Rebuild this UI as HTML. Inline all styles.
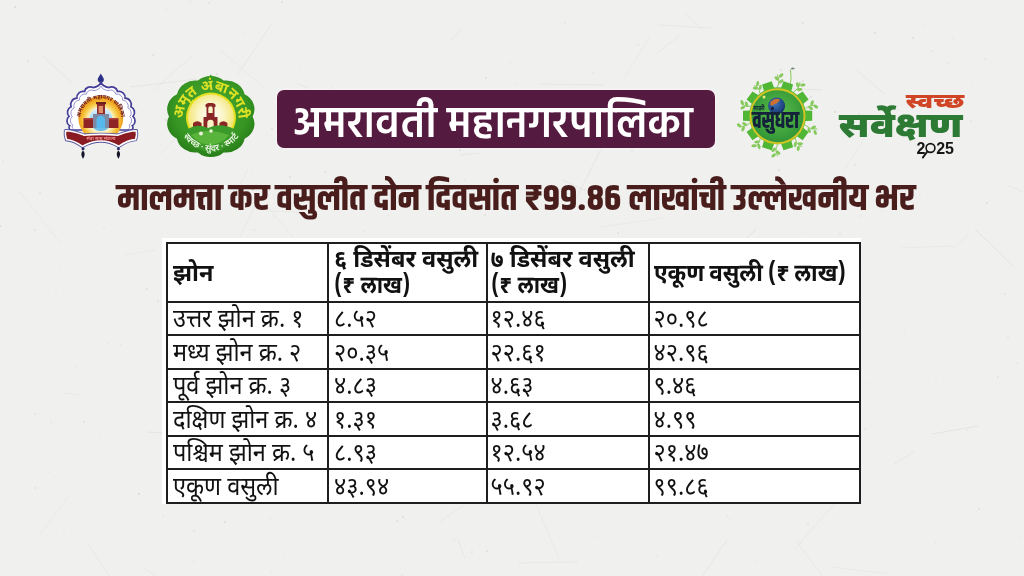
<!DOCTYPE html>
<html lang="mr">
<head>
<meta charset="utf-8">
<title>अमरावती महानगरपालिका - मालमत्ता कर वसुली</title>
<style>
html,body{margin:0;padding:0}
body{width:1024px;height:576px;position:relative;overflow:hidden;background:#f0f0ee;font-family:"Noto Sans Devanagari","Lohit Devanagari","FreeSans","Liberation Sans",sans-serif}
.abs{position:absolute}
#title{left:277px;top:90px;width:438px;height:58px;background:#551a3f;border-radius:7px;box-shadow:0 0 0 1.5px #f6f1f3}
#title span{position:absolute;left:0;top:7px;width:100%;text-align:center;color:#fff;font-family:"Hind","Mukta","Noto Sans Devanagari","Lohit Devanagari","Liberation Sans",sans-serif;font-weight:600;font-size:43px;line-height:58px;white-space:nowrap;transform:translateX(-3px) scaleX(0.978)}
#headline{left:4px;top:175px;width:1024px;text-align:center;color:#481d1b;font-family:"Khand","Teko","Noto Sans Devanagari","Lohit Devanagari","Liberation Sans",sans-serif;font-weight:700;font-size:37.2px;line-height:50px;white-space:nowrap}
#tpad{left:162px;top:238px;width:699px;height:266px;background:#fff}
#tbl{left:166px;top:242px;width:695px;height:262px;background:#1e1e1e;display:grid;grid-template-columns:159px 157px 160px 209px;grid-template-rows:57px 31px 32px 31px 32px 31px 32px;gap:2px;padding:2px;box-sizing:border-box}
#tbl div{background:#fff;color:#111;font-size:23.5px;line-height:25px;padding-left:5px;display:flex;align-items:center;white-space:nowrap}
#tbl div span{display:inline-block;transform:translateY(2px) scaleY(1.1)}
#tbl div.h{font-weight:700;font-size:23.5px}
#tbl div:nth-child(4n+3){padding-left:2.5px}
#tbl div:nth-child(4n+4){padding-left:3.5px}
#tbl div.h span{transform:translateY(1.5px) scaleY(1.05)}
#tbl div i{font-style:normal;display:inline-block;transform:scaleX(0.92);transform-origin:0 50%}
#tbl div.h1 span{transform:translateY(2.5px) scaleY(1.05)}
</style>
</head>
<body>
<svg class="abs" style="left:0;top:0" width="1024" height="576" aria-hidden="true">
<g stroke="#c9c9c6" stroke-width="0.6" fill="none"><path d="M332,87 L313,130" stroke-opacity="0.52"/><path d="M220,50 L266,89" stroke-opacity="0.29"/><path d="M229,361 L235,378" stroke-opacity="0.51"/><path d="M297,83 L315,92" stroke-opacity="0.42"/><path d="M192,56 L153,91" stroke-opacity="0.38"/><path d="M322,337 L379,343" stroke-opacity="0.27"/><path d="M307,285 L325,298" stroke-opacity="0.38"/><path d="M775,88 L822,90" stroke-opacity="0.51"/><path d="M321,400 L365,452" stroke-opacity="0.39"/><path d="M680,35 L656,54" stroke-opacity="0.37"/><path d="M685,13 L704,31" stroke-opacity="0.34"/><path d="M756,229 L724,261" stroke-opacity="0.52"/><path d="M839,498 L795,549" stroke-opacity="0.30"/><path d="M180,134 L159,155" stroke-opacity="0.29"/><path d="M547,351 L598,358" stroke-opacity="0.47"/><path d="M468,502 L438,523" stroke-opacity="0.28"/><path d="M650,36 L625,77" stroke-opacity="0.28"/><path d="M580,309 L599,354" stroke-opacity="0.29"/><path d="M258,200 L240,237" stroke-opacity="0.34"/><path d="M148,432 L164,433" stroke-opacity="0.54"/><path d="M541,84 L603,85" stroke-opacity="0.46"/><path d="M267,211 L301,212" stroke-opacity="0.32"/><path d="M831,567 L890,574" stroke-opacity="0.31"/><path d="M505,421 L523,471" stroke-opacity="0.54"/><path d="M458,540 L465,559" stroke-opacity="0.39"/><path d="M346,278 L379,272" stroke-opacity="0.44"/><path d="M855,69 L885,94" stroke-opacity="0.44"/><path d="M89,545 L119,591" stroke-opacity="0.30"/><path d="M130,87 L198,79" stroke-opacity="0.45"/><path d="M359,316 L379,319" stroke-opacity="0.47"/><path d="M143,568 L170,584" stroke-opacity="0.32"/><path d="M601,149 L572,207" stroke-opacity="0.45"/><path d="M835,298 L856,336" stroke-opacity="0.26"/><path d="M451,105 L408,130" stroke-opacity="0.29"/><path d="M63,393 L81,395" stroke-opacity="0.31"/><path d="M43,56 L72,83" stroke-opacity="0.43"/><path d="M518,295 L489,327" stroke-opacity="0.32"/><path d="M536,505 L560,561" stroke-opacity="0.29"/><path d="M125,255 L156,250" stroke-opacity="0.29"/><path d="M796,541 L837,595" stroke-opacity="0.32"/><path d="M975,229 L1014,267" stroke-opacity="0.55"/><path d="M414,243 L395,284" stroke-opacity="0.38"/><path d="M19,191 L61,244" stroke-opacity="0.28"/><path d="M272,23 L238,74" stroke-opacity="0.45"/><path d="M969,234 L954,248" stroke-opacity="0.27"/><path d="M705,245 L687,253" stroke-opacity="0.51"/><path d="M68,497 L39,536" stroke-opacity="0.26"/><path d="M727,540 L699,582" stroke-opacity="0.41"/><path d="M211,257 L201,271" stroke-opacity="0.26"/><path d="M518,563 L578,562" stroke-opacity="0.38"/><path d="M507,481 L533,502" stroke-opacity="0.50"/><path d="M724,366 L736,377" stroke-opacity="0.44"/><path d="M901,248 L953,246" stroke-opacity="0.33"/><path d="M248,169 L232,200" stroke-opacity="0.35"/><path d="M1009,186 L1023,192" stroke-opacity="0.36"/><path d="M486,290 L443,332" stroke-opacity="0.29"/><path d="M601,227 L662,218" stroke-opacity="0.30"/><path d="M914,452 L894,464" stroke-opacity="0.47"/><path d="M659,25 L712,28" stroke-opacity="0.40"/><path d="M932,434 L978,426" stroke-opacity="0.52"/><path d="M699,399 L674,462" stroke-opacity="0.36"/><path d="M462,29 L451,40" stroke-opacity="0.49"/><path d="M766,290 L807,284" stroke-opacity="0.49"/><path d="M866,135 L844,171" stroke-opacity="0.36"/><path d="M491,394 L516,435" stroke-opacity="0.35"/><path d="M667,399 L654,426" stroke-opacity="0.45"/><path d="M709,389 L668,429" stroke-opacity="0.55"/><path d="M562,180 L617,204" stroke-opacity="0.54"/><path d="M460,155 L480,153" stroke-opacity="0.47"/><path d="M268,207 L302,248" stroke-opacity="0.32"/></g>
<g fill="#b5b5b2"><circle cx="919" cy="280" r="0.3" fill-opacity="0.20"/><circle cx="503" cy="260" r="0.5" fill-opacity="0.26"/><circle cx="352" cy="182" r="0.8" fill-opacity="0.20"/><circle cx="769" cy="483" r="0.4" fill-opacity="0.57"/><circle cx="730" cy="519" r="0.5" fill-opacity="0.35"/><circle cx="402" cy="575" r="0.7" fill-opacity="0.34"/><circle cx="438" cy="158" r="0.3" fill-opacity="0.24"/><circle cx="855" cy="165" r="0.9" fill-opacity="0.30"/><circle cx="272" cy="294" r="0.4" fill-opacity="0.35"/><circle cx="979" cy="509" r="0.8" fill-opacity="0.45"/><circle cx="935" cy="542" r="0.6" fill-opacity="0.49"/><circle cx="51" cy="422" r="0.6" fill-opacity="0.50"/><circle cx="660" cy="165" r="0.3" fill-opacity="0.57"/><circle cx="130" cy="272" r="0.5" fill-opacity="0.32"/><circle cx="757" cy="562" r="0.5" fill-opacity="0.46"/><circle cx="308" cy="321" r="0.5" fill-opacity="0.27"/><circle cx="166" cy="120" r="0.8" fill-opacity="0.40"/><circle cx="225" cy="522" r="0.9" fill-opacity="0.38"/><circle cx="143" cy="111" r="0.4" fill-opacity="0.34"/><circle cx="93" cy="138" r="0.5" fill-opacity="0.43"/><circle cx="909" cy="432" r="0.5" fill-opacity="0.37"/><circle cx="537" cy="217" r="0.5" fill-opacity="0.22"/><circle cx="284" cy="557" r="0.4" fill-opacity="0.40"/><circle cx="645" cy="497" r="0.4" fill-opacity="0.31"/><circle cx="254" cy="230" r="0.6" fill-opacity="0.58"/><circle cx="869" cy="503" r="0.3" fill-opacity="0.21"/><circle cx="727" cy="516" r="0.6" fill-opacity="0.43"/><circle cx="0" cy="226" r="0.9" fill-opacity="0.53"/><circle cx="876" cy="560" r="0.4" fill-opacity="0.24"/><circle cx="158" cy="301" r="0.7" fill-opacity="0.58"/><circle cx="739" cy="373" r="0.8" fill-opacity="0.38"/><circle cx="565" cy="23" r="0.8" fill-opacity="0.29"/><circle cx="942" cy="372" r="0.5" fill-opacity="0.25"/><circle cx="258" cy="367" r="0.7" fill-opacity="0.24"/><circle cx="72" cy="302" r="0.6" fill-opacity="0.36"/><circle cx="229" cy="346" r="0.3" fill-opacity="0.32"/><circle cx="472" cy="552" r="0.7" fill-opacity="0.55"/><circle cx="487" cy="135" r="0.4" fill-opacity="0.58"/><circle cx="722" cy="177" r="0.3" fill-opacity="0.40"/><circle cx="691" cy="242" r="0.5" fill-opacity="0.47"/><circle cx="947" cy="131" r="0.3" fill-opacity="0.34"/><circle cx="431" cy="393" r="0.4" fill-opacity="0.52"/><circle cx="757" cy="291" r="0.4" fill-opacity="0.59"/><circle cx="319" cy="472" r="0.4" fill-opacity="0.29"/><circle cx="779" cy="170" r="0.9" fill-opacity="0.40"/><circle cx="192" cy="129" r="0.6" fill-opacity="0.47"/><circle cx="972" cy="84" r="0.5" fill-opacity="0.29"/><circle cx="997" cy="82" r="0.3" fill-opacity="0.22"/><circle cx="403" cy="517" r="0.8" fill-opacity="0.49"/><circle cx="1021" cy="537" r="0.5" fill-opacity="0.27"/><circle cx="958" cy="430" r="0.3" fill-opacity="0.47"/><circle cx="388" cy="215" r="0.5" fill-opacity="0.27"/><circle cx="3" cy="161" r="0.5" fill-opacity="0.58"/><circle cx="127" cy="555" r="0.4" fill-opacity="0.34"/><circle cx="841" cy="473" r="0.6" fill-opacity="0.22"/><circle cx="485" cy="215" r="0.9" fill-opacity="0.28"/><circle cx="373" cy="517" r="0.3" fill-opacity="0.36"/><circle cx="831" cy="442" r="0.3" fill-opacity="0.21"/><circle cx="64" cy="530" r="0.5" fill-opacity="0.50"/><circle cx="920" cy="195" r="0.5" fill-opacity="0.58"/><circle cx="632" cy="151" r="0.7" fill-opacity="0.33"/><circle cx="282" cy="2" r="0.8" fill-opacity="0.57"/><circle cx="649" cy="543" r="0.3" fill-opacity="0.29"/><circle cx="487" cy="551" r="0.9" fill-opacity="0.35"/><circle cx="257" cy="248" r="0.6" fill-opacity="0.57"/><circle cx="187" cy="462" r="0.7" fill-opacity="0.53"/><circle cx="791" cy="350" r="0.5" fill-opacity="0.33"/><circle cx="371" cy="451" r="0.3" fill-opacity="0.28"/><circle cx="771" cy="142" r="0.3" fill-opacity="0.21"/><circle cx="566" cy="188" r="0.9" fill-opacity="0.55"/><circle cx="1012" cy="153" r="0.4" fill-opacity="0.24"/><circle cx="510" cy="409" r="0.6" fill-opacity="0.29"/><circle cx="427" cy="357" r="0.7" fill-opacity="0.50"/><circle cx="867" cy="383" r="0.4" fill-opacity="0.54"/><circle cx="301" cy="327" r="0.5" fill-opacity="0.50"/><circle cx="204" cy="143" r="0.4" fill-opacity="0.26"/><circle cx="905" cy="333" r="0.5" fill-opacity="0.36"/><circle cx="1016" cy="292" r="0.4" fill-opacity="0.52"/><circle cx="669" cy="571" r="0.4" fill-opacity="0.39"/><circle cx="839" cy="484" r="0.8" fill-opacity="0.22"/><circle cx="301" cy="69" r="0.4" fill-opacity="0.59"/><circle cx="597" cy="536" r="0.5" fill-opacity="0.55"/><circle cx="460" cy="150" r="0.8" fill-opacity="0.58"/><circle cx="108" cy="343" r="0.7" fill-opacity="0.29"/><circle cx="378" cy="81" r="0.4" fill-opacity="0.30"/><circle cx="614" cy="375" r="0.4" fill-opacity="0.20"/><circle cx="335" cy="391" r="0.4" fill-opacity="0.32"/><circle cx="208" cy="458" r="0.6" fill-opacity="0.23"/><circle cx="104" cy="228" r="0.6" fill-opacity="0.46"/><circle cx="93" cy="94" r="0.7" fill-opacity="0.36"/><circle cx="290" cy="177" r="0.9" fill-opacity="0.32"/><circle cx="580" cy="206" r="0.5" fill-opacity="0.55"/><circle cx="1021" cy="210" r="0.4" fill-opacity="0.49"/><circle cx="209" cy="3" r="0.8" fill-opacity="0.37"/><circle cx="840" cy="234" r="0.8" fill-opacity="0.38"/><circle cx="166" cy="9" r="0.6" fill-opacity="0.46"/><circle cx="932" cy="51" r="0.7" fill-opacity="0.35"/><circle cx="517" cy="84" r="0.5" fill-opacity="0.41"/><circle cx="948" cy="63" r="0.6" fill-opacity="0.52"/><circle cx="990" cy="114" r="0.4" fill-opacity="0.58"/><circle cx="999" cy="278" r="0.3" fill-opacity="0.57"/><circle cx="397" cy="521" r="0.7" fill-opacity="0.53"/><circle cx="164" cy="453" r="0.4" fill-opacity="0.36"/><circle cx="867" cy="478" r="0.4" fill-opacity="0.29"/><circle cx="409" cy="298" r="0.5" fill-opacity="0.25"/><circle cx="253" cy="418" r="0.8" fill-opacity="0.22"/><circle cx="576" cy="436" r="0.3" fill-opacity="0.54"/><circle cx="121" cy="345" r="0.6" fill-opacity="0.45"/><circle cx="314" cy="242" r="0.6" fill-opacity="0.37"/><circle cx="675" cy="257" r="0.6" fill-opacity="0.21"/><circle cx="634" cy="282" r="0.4" fill-opacity="0.51"/><circle cx="799" cy="264" r="0.4" fill-opacity="0.39"/><circle cx="110" cy="74" r="0.6" fill-opacity="0.24"/><circle cx="453" cy="294" r="0.3" fill-opacity="0.45"/><circle cx="84" cy="422" r="0.8" fill-opacity="0.40"/><circle cx="56" cy="290" r="0.5" fill-opacity="0.58"/><circle cx="139" cy="494" r="0.9" fill-opacity="0.49"/><circle cx="835" cy="112" r="0.9" fill-opacity="0.40"/><circle cx="980" cy="528" r="0.4" fill-opacity="0.52"/><circle cx="953" cy="38" r="0.5" fill-opacity="0.50"/><circle cx="163" cy="516" r="0.5" fill-opacity="0.53"/><circle cx="147" cy="289" r="0.9" fill-opacity="0.28"/><circle cx="269" cy="291" r="0.5" fill-opacity="0.21"/><circle cx="186" cy="93" r="0.9" fill-opacity="0.47"/><circle cx="917" cy="97" r="0.8" fill-opacity="0.25"/><circle cx="543" cy="367" r="0.5" fill-opacity="0.55"/><circle cx="569" cy="334" r="0.8" fill-opacity="0.24"/><circle cx="1017" cy="363" r="0.5" fill-opacity="0.52"/><circle cx="271" cy="571" r="0.6" fill-opacity="0.34"/><circle cx="783" cy="255" r="0.4" fill-opacity="0.50"/><circle cx="49" cy="472" r="0.5" fill-opacity="0.46"/><circle cx="1008" cy="337" r="0.7" fill-opacity="0.33"/><circle cx="2" cy="19" r="0.4" fill-opacity="0.45"/><circle cx="443" cy="295" r="0.8" fill-opacity="0.25"/><circle cx="233" cy="376" r="0.3" fill-opacity="0.20"/><circle cx="363" cy="61" r="0.5" fill-opacity="0.29"/><circle cx="598" cy="339" r="0.4" fill-opacity="0.45"/><circle cx="486" cy="78" r="0.9" fill-opacity="0.30"/><circle cx="153" cy="55" r="0.7" fill-opacity="0.55"/><circle cx="801" cy="232" r="0.5" fill-opacity="0.20"/><circle cx="660" cy="324" r="0.5" fill-opacity="0.46"/><circle cx="454" cy="540" r="0.7" fill-opacity="0.30"/><circle cx="925" cy="25" r="0.6" fill-opacity="0.36"/><circle cx="243" cy="34" r="0.8" fill-opacity="0.20"/><circle cx="564" cy="542" r="0.4" fill-opacity="0.28"/><circle cx="623" cy="292" r="0.7" fill-opacity="0.53"/><circle cx="179" cy="178" r="0.5" fill-opacity="0.22"/><circle cx="911" cy="451" r="0.7" fill-opacity="0.20"/><circle cx="865" cy="429" r="0.6" fill-opacity="0.50"/><circle cx="463" cy="130" r="0.4" fill-opacity="0.29"/><circle cx="40" cy="193" r="0.7" fill-opacity="0.48"/><circle cx="866" cy="410" r="0.5" fill-opacity="0.42"/><circle cx="447" cy="454" r="0.6" fill-opacity="0.31"/><circle cx="657" cy="556" r="0.4" fill-opacity="0.55"/><circle cx="16" cy="150" r="0.4" fill-opacity="0.50"/><circle cx="967" cy="430" r="0.5" fill-opacity="0.55"/><circle cx="336" cy="138" r="0.8" fill-opacity="0.45"/><circle cx="709" cy="383" r="0.9" fill-opacity="0.39"/><circle cx="860" cy="402" r="0.8" fill-opacity="0.37"/><circle cx="742" cy="329" r="0.5" fill-opacity="0.28"/><circle cx="638" cy="45" r="0.8" fill-opacity="0.26"/><circle cx="28" cy="61" r="0.9" fill-opacity="0.34"/><circle cx="145" cy="17" r="0.3" fill-opacity="0.48"/><circle cx="649" cy="401" r="0.7" fill-opacity="0.23"/><circle cx="605" cy="209" r="0.8" fill-opacity="0.53"/><circle cx="913" cy="38" r="0.8" fill-opacity="0.57"/><circle cx="967" cy="62" r="0.4" fill-opacity="0.24"/><circle cx="35" cy="488" r="0.8" fill-opacity="0.45"/><circle cx="845" cy="364" r="0.5" fill-opacity="0.24"/><circle cx="100" cy="436" r="0.4" fill-opacity="0.33"/><circle cx="434" cy="12" r="0.5" fill-opacity="0.31"/><circle cx="733" cy="212" r="0.5" fill-opacity="0.59"/><circle cx="516" cy="490" r="0.7" fill-opacity="0.21"/><circle cx="423" cy="251" r="0.8" fill-opacity="0.34"/><circle cx="722" cy="310" r="0.4" fill-opacity="0.54"/><circle cx="93" cy="472" r="0.4" fill-opacity="0.20"/><circle cx="207" cy="439" r="0.9" fill-opacity="0.20"/><circle cx="503" cy="283" r="0.8" fill-opacity="0.27"/><circle cx="506" cy="200" r="0.8" fill-opacity="0.30"/><circle cx="967" cy="163" r="0.4" fill-opacity="0.48"/><circle cx="510" cy="63" r="0.7" fill-opacity="0.23"/><circle cx="807" cy="402" r="0.8" fill-opacity="0.45"/><circle cx="364" cy="231" r="0.5" fill-opacity="0.56"/><circle cx="88" cy="512" r="0.3" fill-opacity="0.28"/><circle cx="270" cy="519" r="0.6" fill-opacity="0.35"/><circle cx="905" cy="135" r="0.6" fill-opacity="0.41"/><circle cx="773" cy="434" r="0.7" fill-opacity="0.34"/><circle cx="335" cy="89" r="0.8" fill-opacity="0.46"/><circle cx="760" cy="98" r="0.6" fill-opacity="0.51"/><circle cx="593" cy="73" r="0.6" fill-opacity="0.55"/><circle cx="244" cy="110" r="0.5" fill-opacity="0.48"/><circle cx="864" cy="89" r="0.4" fill-opacity="0.30"/><circle cx="334" cy="301" r="0.4" fill-opacity="0.33"/><circle cx="194" cy="562" r="0.7" fill-opacity="0.24"/><circle cx="985" cy="59" r="0.5" fill-opacity="0.59"/><circle cx="814" cy="422" r="0.6" fill-opacity="0.28"/><circle cx="653" cy="62" r="0.4" fill-opacity="0.36"/><circle cx="35" cy="230" r="0.8" fill-opacity="0.48"/><circle cx="512" cy="364" r="0.6" fill-opacity="0.26"/><circle cx="618" cy="233" r="0.7" fill-opacity="0.56"/><circle cx="440" cy="331" r="0.7" fill-opacity="0.37"/><circle cx="234" cy="416" r="0.8" fill-opacity="0.51"/><circle cx="717" cy="491" r="0.7" fill-opacity="0.46"/><circle cx="465" cy="180" r="0.7" fill-opacity="0.24"/><circle cx="430" cy="451" r="0.7" fill-opacity="0.45"/><circle cx="256" cy="244" r="0.6" fill-opacity="0.45"/><circle cx="419" cy="389" r="0.9" fill-opacity="0.27"/><circle cx="670" cy="448" r="0.5" fill-opacity="0.40"/><circle cx="998" cy="22" r="0.6" fill-opacity="0.26"/><circle cx="801" cy="542" r="0.6" fill-opacity="0.24"/><circle cx="588" cy="312" r="0.7" fill-opacity="0.40"/><circle cx="655" cy="477" r="0.6" fill-opacity="0.36"/><circle cx="971" cy="121" r="0.7" fill-opacity="0.36"/><circle cx="781" cy="70" r="0.9" fill-opacity="0.34"/><circle cx="58" cy="158" r="0.5" fill-opacity="0.21"/><circle cx="429" cy="242" r="0.7" fill-opacity="0.34"/><circle cx="272" cy="129" r="0.7" fill-opacity="0.58"/><circle cx="540" cy="126" r="0.8" fill-opacity="0.36"/><circle cx="217" cy="74" r="0.8" fill-opacity="0.52"/><circle cx="650" cy="270" r="0.6" fill-opacity="0.29"/><circle cx="987" cy="203" r="0.7" fill-opacity="0.53"/><circle cx="836" cy="270" r="0.5" fill-opacity="0.42"/><circle cx="128" cy="480" r="0.5" fill-opacity="0.54"/><circle cx="274" cy="217" r="0.5" fill-opacity="0.37"/><circle cx="190" cy="2" r="0.7" fill-opacity="0.31"/><circle cx="251" cy="174" r="0.6" fill-opacity="0.37"/><circle cx="653" cy="380" r="0.5" fill-opacity="0.57"/><circle cx="875" cy="33" r="0.8" fill-opacity="0.56"/><circle cx="803" cy="81" r="0.8" fill-opacity="0.45"/><circle cx="15" cy="7" r="0.9" fill-opacity="0.46"/><circle cx="256" cy="58" r="0.4" fill-opacity="0.29"/><circle cx="795" cy="200" r="0.4" fill-opacity="0.56"/><circle cx="811" cy="97" r="0.8" fill-opacity="0.44"/><circle cx="800" cy="385" r="0.8" fill-opacity="0.52"/><circle cx="859" cy="114" r="0.7" fill-opacity="0.41"/><circle cx="760" cy="253" r="0.8" fill-opacity="0.42"/><circle cx="271" cy="135" r="0.4" fill-opacity="0.40"/><circle cx="60" cy="269" r="0.4" fill-opacity="0.40"/><circle cx="510" cy="311" r="0.8" fill-opacity="0.20"/><circle cx="861" cy="270" r="0.6" fill-opacity="0.47"/><circle cx="861" cy="216" r="0.6" fill-opacity="0.58"/><circle cx="77" cy="367" r="0.7" fill-opacity="0.21"/><circle cx="624" cy="393" r="0.9" fill-opacity="0.33"/><circle cx="1005" cy="294" r="0.6" fill-opacity="0.56"/><circle cx="35" cy="414" r="0.7" fill-opacity="0.34"/><circle cx="882" cy="211" r="0.6" fill-opacity="0.41"/><circle cx="789" cy="121" r="0.6" fill-opacity="0.37"/><circle cx="567" cy="476" r="0.5" fill-opacity="0.53"/><circle cx="413" cy="290" r="0.5" fill-opacity="0.40"/><circle cx="998" cy="377" r="0.8" fill-opacity="0.33"/><circle cx="325" cy="172" r="0.7" fill-opacity="0.45"/><circle cx="803" cy="23" r="0.7" fill-opacity="0.55"/><circle cx="558" cy="29" r="0.5" fill-opacity="0.20"/><circle cx="194" cy="531" r="0.7" fill-opacity="0.46"/><circle cx="808" cy="524" r="0.7" fill-opacity="0.45"/><circle cx="642" cy="401" r="0.7" fill-opacity="0.47"/><circle cx="218" cy="384" r="0.6" fill-opacity="0.51"/><circle cx="104" cy="104" r="0.3" fill-opacity="0.51"/><circle cx="936" cy="378" r="0.5" fill-opacity="0.53"/><circle cx="805" cy="324" r="0.5" fill-opacity="0.32"/></g>
</svg>


<svg class="abs" style="left:0;top:0" width="1024" height="576" viewBox="0 0 1024 576">
<defs>
  <radialGradient id="sun1" cx="0.5" cy="0.55" r="0.5">
    <stop offset="0" stop-color="#ffffff"/>
    <stop offset="0.55" stop-color="#fdf3c0"/>
    <stop offset="0.8" stop-color="#f6c338"/>
    <stop offset="1" stop-color="#ee9a1c"/>
  </radialGradient>
  <linearGradient id="sky1" x1="0" y1="0" x2="0" y2="1">
    <stop offset="0" stop-color="#e8f4fb"/>
    <stop offset="1" stop-color="#5fb8e8"/>
  </linearGradient>
  <radialGradient id="sun2" cx="0.5" cy="0.45" r="0.55">
    <stop offset="0" stop-color="#ffffff"/>
    <stop offset="0.5" stop-color="#fbf5c6"/>
    <stop offset="1" stop-color="#f1e36a"/>
  </radialGradient>
  <radialGradient id="badge2" cx="0.5" cy="0.42" r="0.6">
    <stop offset="0" stop-color="#4caa34"/>
    <stop offset="0.7" stop-color="#379623"/>
    <stop offset="1" stop-color="#257a17"/>
  </radialGradient>
  <radialGradient id="inner3" cx="0.5" cy="0.45" r="0.55">
    <stop offset="0" stop-color="#5fbf48"/>
    <stop offset="1" stop-color="#2f9437"/>
  </radialGradient>
  <radialGradient id="globe3" cx="0.4" cy="0.35" r="0.7">
    <stop offset="0" stop-color="#3f78c0"/>
    <stop offset="1" stop-color="#152f66"/>
  </radialGradient>
  <path id="arc1" d="M80.3,119 A20.5,20.5 0 0 1 121.3,119"/>
  <path id="arc2" d="M184.4,124.6 A27.5,27.5 0 1 1 237.6,124.6"/>
  <path id="arc2b" d="M180.6,131.7 A33.5,33.5 0 0 0 241.4,131.7"/>
</defs>

<!-- ===== Logo 1 : Amravati Mahanagar Palika emblem ===== -->
<g id="logo1">
  <path d="M100.8,73.4 C101.9,75.8 103.9,77.8 103.9,79.6 A3.1,3.1 0 0 1 97.7,79.6 C97.7,77.8 99.7,75.8 100.8,73.4 Z" fill="#2b2f86"/>
  <rect x="100.3" y="81.5" width="1" height="2" fill="#2b2f86"/>
  <path d="M70.5,130.0 A2.7,2.7 0 0 1 69.7,125.8 A5.9,5.9 0 0 1 69.0,116.3 A6.1,6.1 0 0 1 71.1,106.7 A6.4,6.4 0 0 1 76.9,98.1 A6.2,6.2 0 0 1 84.5,91.5 A5.9,5.9 0 0 1 93.1,87.6 Q99.3,86.5 101,82.4 Q102.7,86.5 108.9,87.6 A5.9,5.9 0 0 1 117.5,91.5 A6.2,6.2 0 0 1 125.1,98.1 A6.4,6.4 0 0 1 130.9,106.7 A6.1,6.1 0 0 1 133.0,116.3 A5.9,5.9 0 0 1 132.3,125.8 A2.7,2.7 0 0 1 131.5,130.0 Z" fill="#ffffff" stroke="#433d98" stroke-width="1.7"/>
  <path d="M73.5,128.9 A2.4,2.4 0 0 1 72.8,125.1 A5.3,5.3 0 0 1 72.2,116.6 A5.5,5.5 0 0 1 74.1,107.9 A5.8,5.8 0 0 1 79.3,100.2 A5.6,5.6 0 0 1 86.2,94.2 A5.3,5.3 0 0 1 93.9,90.7 Q99.5,89.7 101,86.1 Q102.5,89.7 108.1,90.7 A5.3,5.3 0 0 1 115.8,94.2 A5.6,5.6 0 0 1 122.7,100.2 A5.8,5.8 0 0 1 127.9,107.9 A5.5,5.5 0 0 1 129.8,116.6 A5.3,5.3 0 0 1 129.2,125.1 A2.4,2.4 0 0 1 128.4,128.9 " fill="none" stroke="#7d78c4" stroke-width="0.8"/>
  <circle cx="100.8" cy="118.2" r="22.4" fill="url(#sun1)"/>
  <text font-family="Noto Sans Devanagari, Lohit Devanagari, Liberation Sans, sans-serif" font-size="5.6" font-weight="800" fill="#6e1c1c"><textPath href="#arc1" startOffset="50%" text-anchor="middle">अमरावती महानगर पालिका</textPath></text>
  <ellipse cx="100.8" cy="119" rx="11.5" ry="12" fill="url(#sky1)"/>
  <!-- gate -->
  <rect x="97" y="103" width="8" height="12" fill="#8e2b2b"/>
  <rect x="96" y="102" width="10" height="2.2" fill="#6e1e1e"/>
  <rect x="98.6" y="106" width="4.4" height="7" fill="#e0906a"/>
  <path d="M93,128 L93,114 L109,114 L109,128 Z" fill="#7c8aa6"/>
  <path d="M96.5,128 L96.5,120 A4.3,4.3 0 0 1 105.1,120 L105.1,128 Z" fill="#56b8ec"/>
  <rect x="83.5" y="119" width="9.5" height="9" fill="#8e2424"/>
  <rect x="109" y="119" width="9.5" height="9" fill="#8e2424"/>
  <rect x="83.5" y="118" width="9.5" height="1.6" fill="#b04040"/>
  <rect x="109" y="118" width="9.5" height="1.6" fill="#b04040"/>
  <!-- ribbon -->
  <g>
  <path id="rib" d="M65.5,130.8 C72,130.5 78,133 84,135.2 Q101,133.5 118,135.2 C124,133 130,130.5 136.3,130.8 C137,134 136.5,137 135.5,139.6 C131,139.5 125,142 118.7,146.3 Q101,135.7 82.6,146.3 C76,142 70,139.5 66.6,139.8 C65.5,137 65,134 65.5,130.8 Z" fill="none" stroke="#56529e" stroke-width="3.4" stroke-linejoin="round"/>
  <path d="M65.5,130.8 C72,130.5 78,133 84,135.2 Q101,133.5 118,135.2 C124,133 130,130.5 136.3,130.8 C137,134 136.5,137 135.5,139.6 C131,139.5 125,142 118.7,146.3 Q101,135.7 82.6,146.3 C76,142 70,139.5 66.6,139.8 C65.5,137 65,134 65.5,130.8 Z" fill="#8b1b22" stroke="#ffffff" stroke-width="1.6" stroke-linejoin="round"/>
  </g>
  <text x="101" y="140" font-family="Noto Sans Devanagari, Lohit Devanagari, Liberation Sans, sans-serif" font-size="4.6" font-weight="600" fill="#ff9a9a" text-anchor="middle">सेवा सत्य संकल्प</text>
  <!-- tassels -->
  <circle cx="83" cy="148.8" r="1.5" fill="#2a2a6a"/>
  <circle cx="118.4" cy="148.8" r="1.5" fill="#2a2a6a"/>
  <path d="M83,150.6 C84.6,152 85,154 84.4,155.8 C84,157 83.5,158 83,158.8 C82.5,158 82,157 81.6,155.8 C81,154 81.4,152 83,150.6 Z" fill="#15152a"/>
  <path d="M118.4,150.6 C120,152 120.4,154 119.8,155.8 C119.4,157 118.9,158 118.4,158.8 C117.9,158 117.4,157 117,155.8 C116.4,154 116.8,152 118.4,150.6 Z" fill="#15152a"/>
</g>

<!-- ===== Logo 2 : Amrut Ambanagari ===== -->
<g id="logo2">
  <path d="M210.8,74.6 C212.6,77 214.4,78.6 217.5,80 L204.1,80 C207.2,78.6 209,77 210.8,74.6 Z" fill="#3a9a28"/>
  <path d="M222.2,81.8 A16.5,16.5 0 0 1 240.7,95.3 A16.5,16.5 0 0 1 247.8,117.0 A16.5,16.5 0 0 1 240.7,138.7 A16.5,16.5 0 0 1 222.2,152.2 A16.5,16.5 0 0 1 199.4,152.2 A16.5,16.5 0 0 1 180.9,138.7 A16.5,16.5 0 0 1 173.8,117.0 A16.5,16.5 0 0 1 180.9,95.3 A16.5,16.5 0 0 1 199.4,81.8 A16.5,16.5 0 0 1 222.2,81.8 Z" fill="url(#badge2)" transform="translate(210.8,116.5) scale(1.13,1.02) translate(-210.8,-117)"/>
  <circle cx="211" cy="117.5" r="25" fill="#e4e01c"/>
  <circle cx="211" cy="117.5" r="23" fill="url(#sun2)"/>
  <!-- gate -->
  <path d="M206.5,128 L206.5,107 L205.5,107 L205.5,104.5 L208,103 L213,103 L215.5,104.5 L215.5,107 L214.5,107 L214.5,128 Z" fill="#8a2626"/>
  <path d="M208.3,113 L208.3,108.5 A2.2,2.2 0 0 1 212.7,108.5 L212.7,113 Z" fill="#fbf2c8"/>
  <path d="M203.5,129 L203.5,117 L217.5,117 L217.5,129 Z" fill="#8a2626"/>
  <path d="M207.3,129 L207.3,123 A3.2,3.2 0 0 1 213.7,123 L213.7,129 Z" fill="#fbf2c8"/>
  <path d="M193,129 L193,123 Q197.3,119.5 201.6,123 L201.6,129 Z" fill="#8a2626"/>
  <path d="M219.4,129 L219.4,123 Q223.4,119.5 227.4,123 L227.4,129 Z" fill="#8a2626"/>
  <path d="M188,129 Q197,123 208,128 Q220,122 234,129 A23,23 0 0 1 188,129 Z" fill="#3c9a2a"/>
  <path d="M191,135 Q206,127 229,135 A23,23 0 0 1 193,137 Z" fill="#58b43a"/>
  <circle cx="201" cy="133.5" r="2" fill="#e8f0d8"/>
  <circle cx="211" cy="131" r="1.8" fill="#e8f0d8"/>
  <text font-family="Noto Sans Devanagari, Lohit Devanagari, Liberation Sans, sans-serif" font-size="14.5" font-weight="700" fill="#e0e226"><textPath href="#arc2" startOffset="50%" text-anchor="middle">अमृत अंबानगरी</textPath></text>
  <text font-family="Noto Sans Devanagari, Lohit Devanagari, Liberation Sans, sans-serif" font-size="9" font-weight="600" fill="#eef6e6"><textPath href="#arc2b" startOffset="50%" text-anchor="middle">स्वच्छ · सुंदर · स्मार्ट</textPath></text>
</g>

<!-- ===== Logo 3 : Vasundhara gear ===== -->
<g id="logo3">
  <g stroke="#86c95c" stroke-width="1" fill="none" stroke-linecap="round"><path d="M793.8,91.7 Q799.4,88.8 800.0,82.5"/><path d="M805.7,108.5 Q810.2,104.2 816.2,105.7"/><path d="M805.0,125.2 Q810.1,130.0 817.0,129.2"/><path d="M795.4,138.7 Q796.1,144.4 801.5,146.5"/><path d="M777.4,144.8 Q774.4,150.4 777.4,156.0"/><path d="M760.1,138.9 Q759.6,144.6 754.3,146.6"/><path d="M749.6,123.3 Q745.0,127.7 738.9,126.2"/><path d="M750.2,106.2 Q744.9,107.5 741.5,103.1"/><path d="M759.9,92.8 Q759.5,87.4 754.3,85.6"/><path d="M777.5,86.8 Q780.5,80.9 777.4,74.9"/><path d="M790,86 Q792,78 790.5,70"/></g>
  <g fill="#86c95c"><ellipse cx="799.7" cy="89.6" rx="1.5" ry="2.7" transform="rotate(84 799.7 89.6)"/><ellipse cx="797.6" cy="84.8" rx="1.5" ry="2.7" transform="rotate(-16 797.6 84.8)"/><ellipse cx="802.8" cy="85.0" rx="1.5" ry="2.7" transform="rotate(84 802.8 85.0)"/><ellipse cx="810.6" cy="107.9" rx="1.5" ry="2.7" transform="rotate(125 810.6 107.9)"/><ellipse cx="812.1" cy="102.9" rx="1.5" ry="2.7" transform="rotate(25 812.1 102.9)"/><ellipse cx="815.8" cy="106.5" rx="1.5" ry="2.7" transform="rotate(125 815.8 106.5)"/><ellipse cx="809.2" cy="130.5" rx="1.5" ry="2.7" transform="rotate(159 809.2 130.5)"/><ellipse cx="813.6" cy="127.4" rx="1.5" ry="2.7" transform="rotate(59 813.6 127.4)"/><ellipse cx="815.2" cy="132.5" rx="1.5" ry="2.7" transform="rotate(159 815.2 132.5)"/><ellipse cx="795.3" cy="144.5" rx="1.5" ry="2.7" transform="rotate(192 795.3 144.5)"/><ellipse cx="800.3" cy="143.7" rx="1.5" ry="2.7" transform="rotate(92 800.3 143.7)"/><ellipse cx="798.3" cy="148.4" rx="1.5" ry="2.7" transform="rotate(192 798.3 148.4)"/><ellipse cx="773.7" cy="149.8" rx="1.5" ry="2.7" transform="rotate(230 773.7 149.8)"/><ellipse cx="778.1" cy="152.6" rx="1.5" ry="2.7" transform="rotate(130 778.1 152.6)"/><ellipse cx="773.7" cy="155.4" rx="1.5" ry="2.7" transform="rotate(230 773.7 155.4)"/><ellipse cx="756.9" cy="141.9" rx="1.5" ry="2.7" transform="rotate(267 756.9 141.9)"/><ellipse cx="759.0" cy="146.5" rx="1.5" ry="2.7" transform="rotate(167 759.0 146.5)"/><ellipse cx="754.0" cy="145.8" rx="1.5" ry="2.7" transform="rotate(267 754.0 145.8)"/><ellipse cx="744.6" cy="124.0" rx="1.5" ry="2.7" transform="rotate(305 744.6 124.0)"/><ellipse cx="743.1" cy="128.9" rx="1.5" ry="2.7" transform="rotate(205 743.1 128.9)"/><ellipse cx="739.2" cy="125.4" rx="1.5" ry="2.7" transform="rotate(305 739.2 125.4)"/><ellipse cx="746.5" cy="104.1" rx="1.5" ry="2.7" transform="rotate(339 746.5 104.1)"/><ellipse cx="742.9" cy="107.5" rx="1.5" ry="2.7" transform="rotate(239 742.9 107.5)"/><ellipse cx="742.2" cy="102.6" rx="1.5" ry="2.7" transform="rotate(339 742.2 102.6)"/><ellipse cx="760.3" cy="87.3" rx="1.5" ry="2.7" transform="rotate(372 760.3 87.3)"/><ellipse cx="755.5" cy="88.2" rx="1.5" ry="2.7" transform="rotate(272 755.5 88.2)"/><ellipse cx="757.6" cy="83.7" rx="1.5" ry="2.7" transform="rotate(372 757.6 83.7)"/><ellipse cx="781.2" cy="81.4" rx="1.5" ry="2.7" transform="rotate(410 781.2 81.4)"/><ellipse cx="776.8" cy="78.5" rx="1.5" ry="2.7" transform="rotate(310 776.8 78.5)"/><ellipse cx="781.1" cy="75.5" rx="1.5" ry="2.7" transform="rotate(410 781.1 75.5)"/></g>
  <path d="M790.5,69 q2,-2.5 4.5,-0.5 q-2,1.5 -4.5,0.5z" fill="#7a8a7a"/>
  <path d="M777.6,87.3 L781.2,87.5 L783.5,81.3 L793.1,84.4 L791.3,90.8 L794.4,92.7 L797.1,95.0 L802.7,91.4 L808.6,99.5 L803.4,103.7 L804.7,107.0 L805.6,110.5 L812.2,110.8 L812.2,120.8 L805.6,121.1 L804.7,124.6 L803.4,127.9 L808.6,132.1 L802.7,140.2 L797.1,136.6 L794.4,138.9 L791.3,140.8 L793.1,147.2 L783.5,150.3 L781.2,144.1 L777.6,144.3 L774.0,144.1 L771.7,150.3 L762.1,147.2 L763.9,140.8 L760.8,138.9 L758.1,136.6 L752.5,140.2 L746.6,132.1 L751.8,127.9 L750.5,124.6 L749.6,121.1 L743.0,120.8 L743.0,110.8 L749.6,110.5 L750.5,107.0 L751.8,103.7 L746.6,99.5 L752.5,91.4 L758.1,95.0 L760.8,92.7 L763.9,90.8 L762.1,84.4 L771.7,81.3 L774.0,87.5 Z" fill="#4fb636"/>
  <circle cx="777.5" cy="116.2" r="27" fill="url(#inner3)" stroke="#d2c424" stroke-width="2"/>
  <circle cx="776.6" cy="106.1" r="8.5" fill="url(#globe3)"/>
  <path d="M771,101.5 Q775,97.5 780,99.5 Q778,103.5 774,104.5 Q772,106.5 770,104.5 Z" fill="#d0702e"/>
  <circle cx="764" cy="97" r="1.5" fill="#f4f070"/>
  <text x="775.5" y="127.6" font-family="Khand, Noto Sans Devanagari, Lohit Devanagari, Liberation Sans, sans-serif" font-size="24" font-weight="700" fill="#14213a" text-anchor="middle" transform="translate(775.5,0) scale(0.86,1) translate(-775.5,0)">वसुंधरा</text>
  <text x="759" y="109.5" font-family="Noto Sans Devanagari, Lohit Devanagari, Liberation Sans, sans-serif" font-size="5.5" font-weight="700" fill="#14213a" text-anchor="middle">माझी</text>
</g>

<!-- ===== Logo 4 : Swachh Survekshan 2025 ===== -->
<g id="logo4">
  <text x="905.8" y="107.8" font-family="Noto Sans Devanagari, Lohit Devanagari, Liberation Sans, sans-serif" font-size="21" font-weight="900" fill="#cf4526" transform="translate(905.8,0) scale(1.21,1) translate(-905.8,0)">स्वच्छ</text>
  <text x="838.8" y="137.3" font-family="Noto Sans Devanagari, Lohit Devanagari, Liberation Sans, sans-serif" font-size="35.5" font-weight="900" fill="#2c7a34" transform="translate(838.8,0) scale(1.12,1) translate(-838.8,0)">सर्वेक्षण</text>
  <text x="916.5" y="153.8" font-family="Liberation Sans, sans-serif" font-size="16" font-weight="700" fill="#161616">2</text>
  <circle cx="930.5" cy="148" r="4.4" fill="none" stroke="#161616" stroke-width="1.6"/>
  <path d="M927.4,151.4 L922.8,157.6" stroke="#161616" stroke-width="1.8" stroke-linecap="round"/>
  <text x="936.2" y="153.8" font-family="Liberation Sans, sans-serif" font-size="16" font-weight="700" fill="#161616">25</text>
</g>
</svg>

<div id="title" class="abs"><span>अमरावती महानगरपालिका</span></div>

<div id="headline" class="abs">मालमत्ता कर वसुलीत दोन दिवसांत ₹99.86 लाखांची उल्लेखनीय भर</div>

<div id="tpad" class="abs"></div>
<div id="tbl" class="abs">
  <div class="h h1"><span>झोन</span></div>
  <div class="h"><span>६ डिसेंबर वसुली<br><i>(₹ लाख)</i></span></div>
  <div class="h"><span>७ डिसेंबर वसुली<br><i>(₹ लाख)</i></span></div>
  <div class="h h1"><span style="word-spacing:-1px;transform-origin:0 50%;transform:translateY(2.5px) scale(0.955,1.05)">एकूण वसुली (₹ लाख)</span></div>

  <div><span>उत्तर झोन क्र. १</span></div><div><span>८.५२</span></div><div><span>१२.४६</span></div><div><span>२०.९८</span></div>
  <div><span>मध्य झोन क्र. २</span></div><div><span>२०.३५</span></div><div><span>२२.६१</span></div><div><span>४२.९६</span></div>
  <div><span>पूर्व झोन क्र. ३</span></div><div><span>४.८३</span></div><div><span>४.६३</span></div><div><span>९.४६</span></div>
  <div><span>दक्षिण झोन क्र. ४</span></div><div><span>१.३१</span></div><div><span>३.६८</span></div><div><span>४.९९</span></div>
  <div><span>पश्चिम झोन क्र. ५</span></div><div><span>८.९३</span></div><div><span>१२.५४</span></div><div><span>२१.४७</span></div>
  <div><span>एकूण वसुली</span></div><div><span>४३.९४</span></div><div><span>५५.९२</span></div><div><span>९९.८६</span></div>
</div>

</body>
</html>
